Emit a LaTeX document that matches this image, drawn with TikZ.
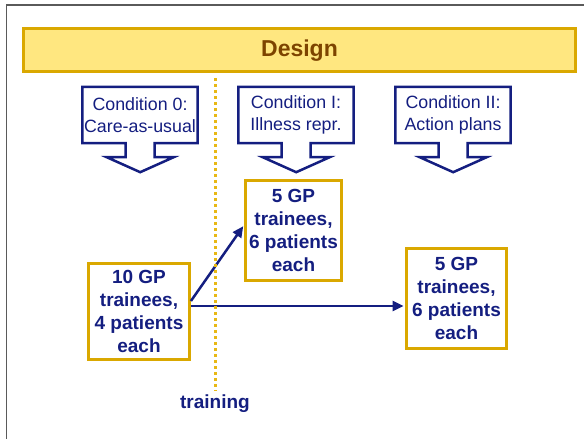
\documentclass[tikz,border=0pt]{standalone}
\usepackage{fontspec}
\setmainfont{Liberation Sans}
\usetikzlibrary{arrows.meta,positioning}
\definecolor{navy}{RGB}{20,30,128}
\definecolor{gold}{RGB}{218,168,0}
\definecolor{dotgold}{RGB}{232,184,20}
\definecolor{barfill}{RGB}{255,231,128}
\definecolor{titlebrown}{RGB}{125,68,0}
\definecolor{framegray}{RGB}{90,90,90}

\begin{document}
\begin{tikzpicture}[x=1pt,y=-1pt,on grid,
    cond/.style={minimum width=115pt,minimum height=56pt,inner sep=0pt,align=center,
                 text=navy,font=\fontsize{17.8}{21.6}\selectfont},
    group/.style={draw=gold,line width=2.8pt,inner sep=2pt,align=center,
                  text=navy,font=\fontsize{19}{22.7}\selectfont\bfseries},
    outline/.style={draw=navy,line width=2.5pt,line join=miter},
    flow/.style={draw=navy,line width=2.5pt,shorten >=1.5pt,-{Triangle[length=11pt,width=10pt]}},
    trainline/.style={draw=dotgold,line width=3pt,dash pattern=on 3pt off 3pt}]

    \useasboundingbox (0,0) rectangle (584,439);
    \draw[framegray,line width=1.6pt] (6.5,441) -- (6.5,4.7) -- (586,4.7);

    % title bar
    \node[draw=gold,fill=barfill,line width=2.8pt,minimum width=552pt,minimum height=43pt,
          text=titlebrown,font=\fontsize{23}{26}\selectfont\bfseries] (design) at (299.5,50.3) {Design};

    % the three conditions
    \node[cond] (c0) at (140,115) {Condition 0:\\Care-as-usual};
    \node[cond,right=156pt of c0] (c1) {Condition I:\\Illness repr.};
    \node[cond,right=157pt of c1] (c2) {Condition II:\\Action plans};

    \foreach \c in {c0,c1,c2}
        \draw[outline] (\c.south west) -- (\c.north west) -- (\c.north east) -- (\c.south east)
            -- ++(-43,0) -- ++(0,14) -- ++(19,0) -- ++(-33.5,15) -- ++(-33.5,-15)
            -- ++(19,0) -- ++(0,-14) -- cycle;

    % trainee groups
    \node[group,minimum width=101pt,minimum height=96pt] (g10) at (139,311.5) {10 GP\\trainees,\\4 patients\\each};
    \node[group,minimum width=96pt,minimum height=100pt] (g5a) at (293.5,230.5) {5 GP\\trainees,\\6 patients\\each};
    \node[group,minimum width=100pt,minimum height=100pt] (g5b) at (456.5,298.5) {5 GP\\trainees,\\6 patients\\each};

    \draw[flow] ([yshift=10.5pt]g10.east) -- ([yshift=5.5pt]g5a.west);
    \draw[flow] ([yshift=5.5pt]g10.east) -- ([yshift=5.5pt]g10.east -| g5b.west);

    % training line
    \coordinate (ttop) at (215,78);
    \node[text=navy,font=\fontsize{19}{22}\selectfont\bfseries,anchor=base] (train) at (215,408) {training};
    \draw[trainline] (ttop) -- (train.north);

\end{tikzpicture}
\end{document}
